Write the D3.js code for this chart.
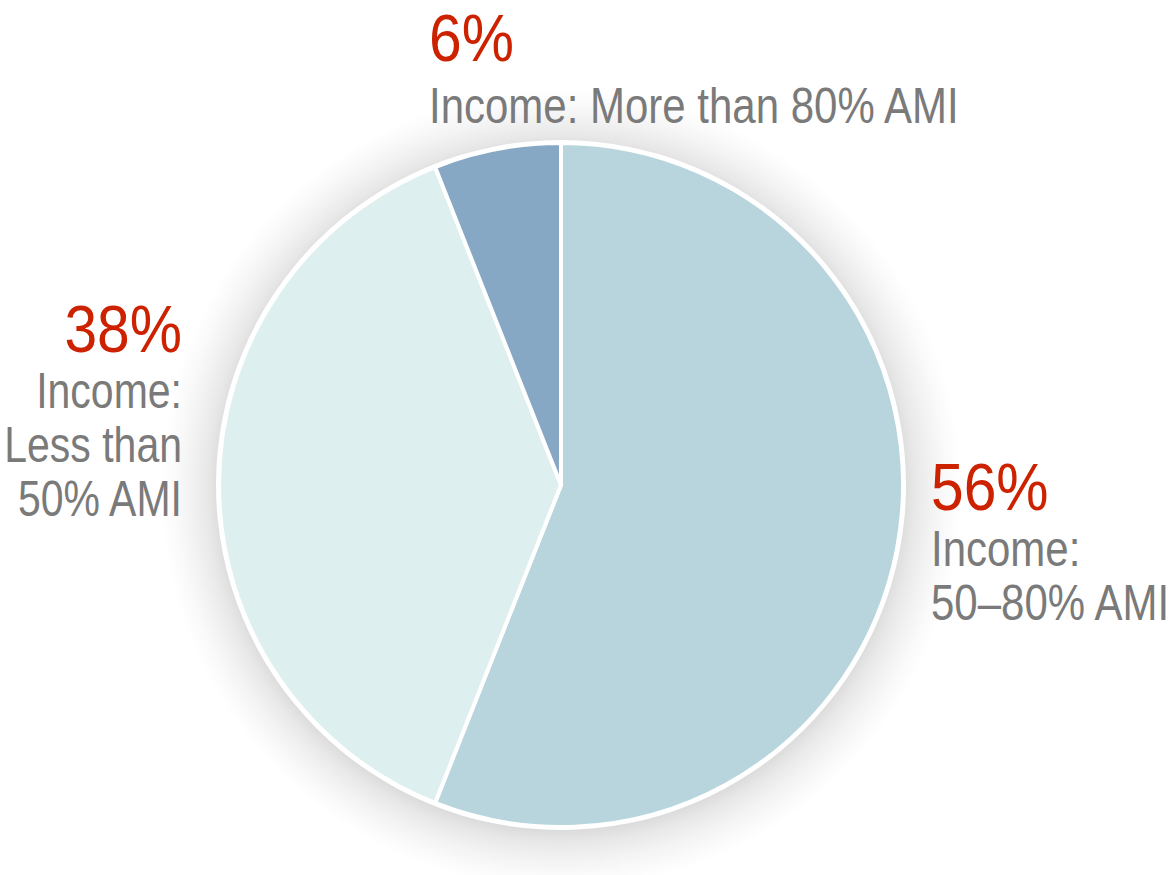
<!DOCTYPE html>
<html>
<head>
<meta charset="utf-8">
<script src="https://cdn.jsdelivr.net/npm/d3@7"></script>
<style>
  html, body { margin: 0; padding: 0; background: #ffffff; }
  svg { display: block; }
  text { font-family: "Liberation Sans", Arial, sans-serif; }
</style>
</head>
<body>
<svg id="chart" width="1173" height="875"></svg>
<script>
// Share of households by income band (percent of AMI)
const categories = ["Income: 50–80% AMI", "Income: Less than 50% AMI", "Income: More than 80% AMI"];
const values = [56, 38, 6];
const valueLabels = ["56%", "38%", "6%"];
const labelLines = [
  ["Income:", "50–80% AMI"],
  ["Income:", "Less than", "50% AMI"],
  ["Income: More than 80% AMI"]
];
const colors = ["#b8d5de", "#ddf0ef", "#87a8c5"];

const svg = d3.select("#chart");
const cx = 561, cy = 485, radius = 342;

// soft halo around the pie
const defs = svg.append("defs");
const haloR = radius + 58;
const halo = defs.append("radialGradient")
  .attr("id", "halo")
  .attr("gradientUnits", "userSpaceOnUse")
  .attr("cx", cx).attr("cy", cy + 4).attr("r", haloR);
[[0, "#dcdcdc"], [(radius) / haloR, "#dcdcdc"], [(radius + 12) / haloR, "#e8e8e8"],
 [(radius + 28) / haloR, "#f2f2f2"], [(radius + 44) / haloR, "#fafafa"], [1, "#ffffff"]]
  .forEach(([o, c]) => halo.append("stop").attr("offset", o).attr("stop-color", c));

svg.append("circle")
  .attr("cx", cx).attr("cy", cy + 4).attr("r", haloR)
  .attr("fill", "url(#halo)");

const data = categories.map((c, i) => ({ category: c, value: values[i], label: valueLabels[i], lines: labelLines[i], color: colors[i] }));

const pie = d3.pie().sort(null).value(d => d.value);
const arc = d3.arc().innerRadius(0).outerRadius(radius);

const g = svg.append("g").attr("transform", `translate(${cx},${cy})`);

// white rim
g.append("circle").attr("r", radius + 3).attr("fill", "#ffffff");

g.selectAll("path.slice")
  .data(pie(data))
  .join("path")
  .attr("class", "slice")
  .attr("d", arc)
  .attr("fill", d => d.data.color)
  .attr("stroke", "#ffffff")
  .attr("stroke-width", 4)
  .attr("stroke-linejoin", "round");

// labels: position, anchor and line layout per slice (condensed by horizontal scaling)
const labelPos = [
  { x: 931, y: 510, anchor: "start", gap: 56, scale: 0.84 },
  { x: 182, y: 352, anchor: "end", gap: 56, scale: 0.82 },
  { x: 429, y: 61, anchor: "start", gap: 62, scale: 0.84 }
];
const bigSize = 66, smallSize = 50, lineGap = 54;
const bigScale = 0.89;

data.forEach((d, i) => {
  const p = labelPos[i];
  svg.append("text")
    .attr("transform", `translate(${p.x},${p.y}) scale(${bigScale},1)`)
    .attr("text-anchor", p.anchor)
    .attr("fill", "#cc2200")
    .attr("font-size", bigSize)
    .text(d.label);
  d.lines.forEach((line, j) => {
    svg.append("text")
      .attr("transform", `translate(${p.x},${p.y + p.gap + j * lineGap}) scale(${p.scale},1)`)
      .attr("text-anchor", p.anchor)
      .attr("fill", "#7a7a7a")
      .attr("font-size", smallSize)
      .text(line);
  });
});
</script>
</body>
</html>
